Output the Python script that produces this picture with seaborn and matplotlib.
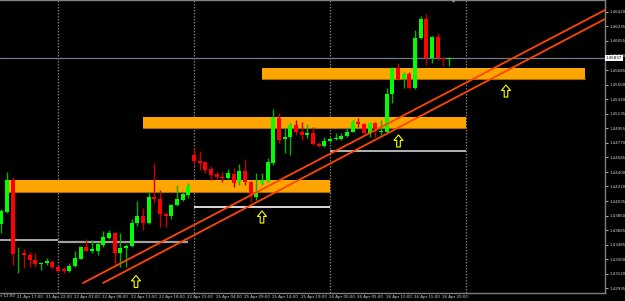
import numpy as np
import matplotlib
matplotlib.use("Agg")
import matplotlib.pyplot as plt
from matplotlib.patches import Rectangle
from matplotlib.path import Path
import seaborn as sns

# ---------------- data (H1 candles) ----------------
opens = [1.43747, 1.43898, 1.44301, 1.43363, 1.43382, 1.43357, 1.43294, 1.43237, 1.43256, 1.43268,
         1.43206, 1.43177, 1.43155, 1.43218, 1.43306, 1.43457, 1.43407, 1.43407, 1.43482, 1.43571,
         1.43634, 1.43382, 1.43445, 1.43470, 1.43759, 1.43848, 1.43759, 1.44087, 1.44062, 1.43873,
         1.43848, 1.43986, 1.44049, 1.44112, 1.44616, 1.44540, 1.44527, 1.44439, 1.44376, 1.44339,
         1.44326, 1.44376, 1.44276, 1.44414, 1.44276, 1.44087, 1.44263, 1.44288, 1.44515, 1.45081,
         1.44817, 1.44842, 1.44993, 1.44905, 1.44867, 1.44893, 1.44754, 1.44729, 1.44798, 1.44811,
         1.44817, 1.44855, 1.44905, 1.45031, 1.45006, 1.44893, 1.45018, 1.44905, 1.44905, 1.45384,
         1.45711, 1.45572, 1.45635, 1.45459, 1.46089, 1.46328, 1.45837, 1.46101, 1.45837, 1.45824]
highs = [1.43936, 1.44402, 1.44339, 1.43457, 1.43432, 1.43394, 1.43382, 1.43268, 1.43319, 1.43294,
         1.43218, 1.43206, 1.43256, 1.43407, 1.43470, 1.43558, 1.43545, 1.43508, 1.43659, 1.43671,
         1.43646, 1.43634, 1.43495, 1.43810, 1.44036, 1.43948, 1.44150, 1.44515, 1.44175, 1.43898,
         1.43999, 1.44238, 1.44150, 1.44263, 1.44704, 1.44666, 1.44540, 1.44477, 1.44402, 1.44402,
         1.44439, 1.44452, 1.44502, 1.44565, 1.44288, 1.44389, 1.44389, 1.44578, 1.45195, 1.45144,
         1.44956, 1.45018, 1.45056, 1.45031, 1.45006, 1.44968, 1.44779, 1.44842, 1.44842, 1.44893,
         1.44893, 1.44956, 1.45056, 1.45081, 1.45018, 1.45031, 1.45031, 1.45056, 1.45459, 1.45724,
         1.45774, 1.45661, 1.45661, 1.46189, 1.46366, 1.46391, 1.46114, 1.46152, 1.45849, 1.45849]
lows = [1.43634, 1.43885, 1.43231, 1.43130, 1.43193, 1.43206, 1.43206, 1.43168, 1.43231, 1.43180,
        1.43143, 1.43130, 1.43143, 1.43206, 1.43300, 1.43401, 1.43382, 1.43357, 1.43457, 1.43558,
        1.43231, 1.43206, 1.43206, 1.43457, 1.43722, 1.43671, 1.43753, 1.44011, 1.43709, 1.43709,
        1.43810, 1.43974, 1.44036, 1.44074, 1.44490, 1.44427, 1.44389, 1.44301, 1.44313, 1.44276,
        1.44313, 1.44213, 1.44238, 1.44238, 1.44024, 1.44049, 1.44238, 1.44276, 1.44490, 1.44767,
        1.44641, 1.44616, 1.44867, 1.44804, 1.44830, 1.44741, 1.44716, 1.44716, 1.44779, 1.44804,
        1.44804, 1.44842, 1.44899, 1.44968, 1.44880, 1.44842, 1.44842, 1.44867, 1.44899, 1.45270,
        1.45560, 1.45459, 1.45447, 1.45447, 1.46076, 1.45749, 1.45774, 1.45812, 1.45736, 1.45736]
closes = [1.43911, 1.44301, 1.43369, 1.43375, 1.43357, 1.43294, 1.43243, 1.43256, 1.43281, 1.43206,
          1.43155, 1.43161, 1.43218, 1.43319, 1.43457, 1.43407, 1.43426, 1.43495, 1.43583, 1.43634,
          1.43382, 1.43445, 1.43470, 1.43759, 1.43848, 1.43759, 1.44087, 1.44062, 1.43873, 1.43848,
          1.43986, 1.44062, 1.44125, 1.44225, 1.44540, 1.44515, 1.44427, 1.44364, 1.44339, 1.44326,
          1.44389, 1.44263, 1.44414, 1.44276, 1.44125, 1.44137, 1.44301, 1.44527, 1.45081, 1.44804,
          1.44842, 1.44993, 1.44905, 1.44867, 1.44893, 1.44754, 1.44729, 1.44792, 1.44817, 1.44830,
          1.44855, 1.44905, 1.45031, 1.45006, 1.44893, 1.45018, 1.44943, 1.44918, 1.45384, 1.45711,
          1.45572, 1.45635, 1.45459, 1.46089, 1.46328, 1.45837, 1.46101, 1.45837, 1.45824, 1.45837]

# time axis labels (bar index, text)
xlabel_idx = [-2, 3, 8, 13, 18, 23, 28, 33, 38, 43, 48, 53, 58, 63, 68, 73, 78]
xlabel_txt = ["21 Apr 12:00", "21 Apr 17:00", "21 Apr 22:00", "22 Apr 03:00", "22 Apr 08:00",
              "22 Apr 13:00", "22 Apr 18:00", "22 Apr 23:00", "25 Apr 04:00", "25 Apr 09:00",
              "25 Apr 14:00", "25 Apr 19:00", "26 Apr 00:00", "26 Apr 05:00", "26 Apr 10:00",
              "26 Apr 15:00", "26 Apr 20:00"]
ytick_vals = [1.46420, 1.46235, 1.46055, 1.45870, 1.45685, 1.45500, 1.45320, 1.45135, 1.44955, 1.44770,
              1.44585, 1.44400, 1.44220, 1.44035, 1.43850, 1.43665, 1.43485, 1.43300, 1.43120, 1.42935]
day_separators = [10, 34, 58, 82]

# drawn objects
zones = [  # (x_start, x_end, price_low, price_high)
    (0.65, 58.0, 1.44150, 1.44301),
    (25.0, 82.0, 1.44956, 1.45094),
    (46.0, 103.0, 1.45572, 1.45711),
]
hlines = [  # (x_start, x_end, price, color, width)
    (-0.3, 10.0, 1.43545, "#C8C8C8", 1.2),
    (10.0, 32.9, 1.43524, "#A0A0A0", 1.6),
    (34.0, 58.0, 1.43961, "#FFFFFF", 1.2),
    (58.0, 82.0, 1.44672, "#B4B4B4", 1.4),
]
trend_upper_x = [14.42, 106.53]
trend_upper_y = [1.43004, 1.46441]
trend_lower_x = [17.95, 106.53]
trend_lower_y = [1.43004, 1.46328]
arrow_x = [23.77, 46.0, 70.09, 89.06]
arrow_y = [1.43023, 1.43835, 1.44792, 1.45421]

# ---------------- style ----------------
sns.set_theme(style="dark", rc={
    "axes.facecolor": "black", "figure.facecolor": "black",
    "axes.edgecolor": "#808080", "text.color": "#D8D8D8",
    "xtick.color": "#D8D8D8", "ytick.color": "#D8D8D8",
})
plt.rcParams["font.family"] = ["DejaVu Sans"]

fig = plt.figure(figsize=(6.25, 3.01), dpi=100, facecolor="black")
ax = fig.add_axes([0, 8 / 301, 605 / 625, 293 / 301])
ax.set_facecolor("black")

n = len(opens)
x = np.arange(n)
o = np.array(opens); c = np.array(closes); h = np.array(highs); l = np.array(lows)
up = c >= o

# day separators
for d in day_separators:
    ax.axvline(d, color="#7A7A7A", lw=0.9, ls=(0, (1.2, 1.2)), zorder=0.5)

# zones (background rectangles)
for x0, x1, p0, p1 in zones:
    ax.add_patch(Rectangle((x0, p0), x1 - x0, p1 - p0, facecolor="#FFA500",
                           edgecolor="none", zorder=1))
    ax.plot([x0, x1], [p0, p0], color="#A86C00", lw=0.8, zorder=1.1)

# horizontal lines
for x0, x1, p, col, w in hlines:
    ax.plot([x0, x1], [p, p], color=col, lw=w, zorder=1.2, solid_capstyle="butt")

# current price line
ax.axhline(closes[-1], color="#6E7B8B", lw=0.9, zorder=1.3)

# candles
ax.vlines(x[up], l[up], h[up], color="#00B400", lw=1.0, zorder=2)
ax.vlines(x[~up], l[~up], h[~up], color="#C80000", lw=1.0, zorder=2)
body_lo = np.minimum(o, c)
body_h = np.maximum(np.abs(c - o), 0.00012)
ax.bar(x[up], body_h[up], bottom=body_lo[up], width=0.72, color="#00FF00",
       edgecolor="none", zorder=3)
ax.bar(x[~up], body_h[~up], bottom=body_lo[~up], width=0.72, color="#FF0000",
       edgecolor="none", zorder=3)

# trend lines (seaborn)
sns.lineplot(x=trend_upper_x, y=trend_upper_y, color="#FF4500", lw=1.3, ax=ax,
             legend=False, zorder=4)
sns.lineplot(x=trend_lower_x, y=trend_lower_y, color="#FF4500", lw=1.3, ax=ax,
             legend=False, zorder=4)

# hollow up arrows
verts = [(0, 0.5), (0.375, 0.05), (0.15, 0.05), (0.15, -0.5), (-0.15, -0.5),
         (-0.15, 0.05), (-0.375, 0.05), (0, 0.5)]
codes = [Path.MOVETO] + [Path.LINETO] * 6 + [Path.CLOSEPOLY]
arrow = Path(verts, codes)
ax.scatter(arrow_x, arrow_y, marker=arrow, s=75, facecolors="none",
           edgecolors="#FFFF00", linewidths=0.8, zorder=6)

# axes limits / spines
ax.set_xlim(-0.23, 106.53)
ax.set_ylim(1.42878, 1.46567)
for side in ["left"]:
    ax.spines[side].set_visible(False)
for side in ["top", "bottom", "right"]:
    ax.spines[side].set_visible(True)
    ax.spines[side].set_color("#808080")
    ax.spines[side].set_linewidth(1.0)
ax.grid(False)
ax.set_xlabel("")
ax.set_ylabel("")

# y ticks on the right
ax.yaxis.tick_right()
ax.set_yticks(ytick_vals)
ax.set_yticklabels([f"{v:.5f}" for v in ytick_vals])
ax.tick_params(axis="y", which="major", length=2, width=0.6, pad=1,
               labelsize=2.9, colors="#D0D0D0", right=True, left=False)

# x ticks (labels left aligned at bar)
vis = [(i, t) for i, t in zip(xlabel_idx, xlabel_txt) if i >= 0]
ax.set_xticks([i - 0.2 for i, _ in vis])
ax.set_xticklabels([t for _, t in vis], ha="left")
ax.tick_params(axis="x", which="major", length=0, pad=1.5, labelsize=2.9,
               colors="#D0D0D0", bottom=True)
for i, t in zip(xlabel_idx, xlabel_txt):
    if i < 0:
        ax.text(i - 0.2, -0.004, t, transform=ax.get_xaxis_transform(), ha="left",
                va="top", fontsize=2.9, color="#D0D0D0", clip_on=False)

# current price label box
ax.text(1.0015, closes[-1], f"{closes[-1]:.5f}", transform=ax.get_yaxis_transform(),
        ha="left", va="center", fontsize=2.9, color="black", zorder=10, clip_on=False,
        bbox=dict(boxstyle="square,pad=0.25", facecolor="white", edgecolor="none"))

# chart-shift marker at the top
ax.scatter([79.7], [1.46567], marker="v", s=4, color="#9A9A9A", zorder=7, clip_on=False)

fig.savefig("out.png", dpi=100, facecolor="black")
